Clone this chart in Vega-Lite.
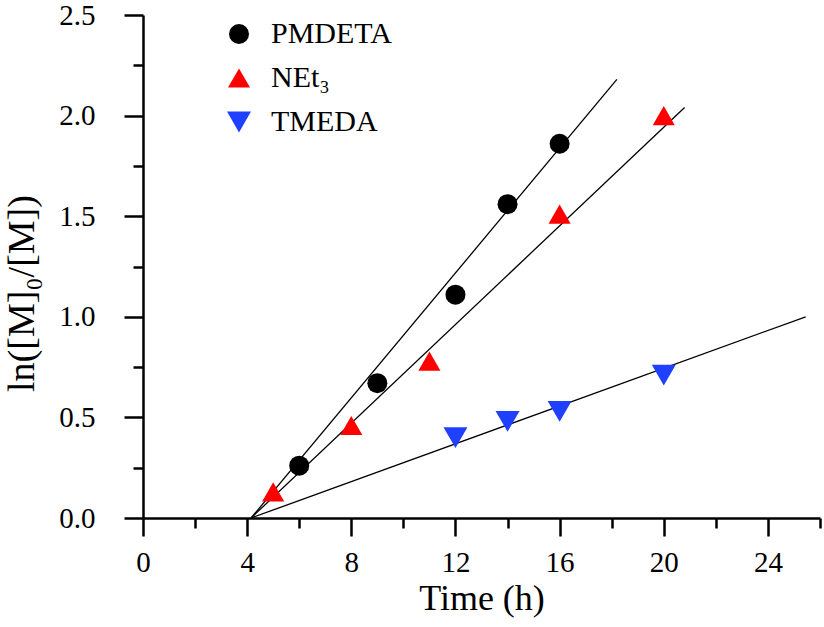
{
  "$schema": "https://vega.github.io/schema/vega-lite/v6.json",
  "width": 677,
  "height": 503,
  "autosize": "none",
  "padding": {"left": 143, "top": 15, "right": 4, "bottom": 109},
  "background": "white",
  "config": {"view": {"stroke": null}, "font": "Liberation Serif", "axis": {"labelFont": "Liberation Serif", "titleFont": "Liberation Serif"}},
  "datasets": {
    "points": [
      {"series": "PMDETA", "time": 6, "value": 0.26},
      {"series": "PMDETA", "time": 9, "value": 0.67},
      {"series": "PMDETA", "time": 12, "value": 1.11},
      {"series": "PMDETA", "time": 14, "value": 1.56},
      {"series": "PMDETA", "time": 16, "value": 1.86},
      {"series": "NEt₃", "time": 5, "value": 0.13},
      {"series": "NEt₃", "time": 8, "value": 0.46},
      {"series": "NEt₃", "time": 11, "value": 0.78},
      {"series": "NEt₃", "time": 16, "value": 1.51},
      {"series": "NEt₃", "time": 20, "value": 2.0},
      {"series": "TMEDA", "time": 12, "value": 0.4},
      {"series": "TMEDA", "time": 14, "value": 0.48},
      {"series": "TMEDA", "time": 16, "value": 0.53},
      {"series": "TMEDA", "time": 20, "value": 0.71}
    ],
    "fits": [
      {"series": "PMDETA", "time": 4.15, "value": 0},
      {"series": "PMDETA", "time": 18.2, "value": 2.18},
      {"series": "NEt₃", "time": 4.15, "value": 0},
      {"series": "NEt₃", "time": 20.8, "value": 2.04},
      {"series": "TMEDA", "time": 4.15, "value": 0},
      {"series": "TMEDA", "time": 25.45, "value": 1.0}
    ]
  },
  "layer": [
    {
      "data": {"name": "fits"},
      "mark": {"type": "line", "color": "black", "strokeWidth": 1.3},
      "encoding": {
        "x": {
          "field": "time", "type": "quantitative",
          "scale": {"domain": [0, 26], "nice": false, "zero": false},
          "axis": {
            "values": [0, 2, 4, 6, 8, 10, 12, 14, 16, 18, 20, 22, 24, 26],
            "labelExpr": "datum.value % 4 === 0 ? datum.label : ''",
            "format": "d",
            "tickSize": {"condition": {"test": "datum.value % 4 === 0", "value": 18}, "value": 10},
            "tickWidth": 2.5, "tickColor": "black",
            "domainWidth": 2.5, "domainColor": "black",
            "labelFont": "Liberation Serif",
            "labelFontSize": 29, "labelColor": "black", "labelPadding": 12,
            "labelOverlap": false, "labelFlush": false,
            "title": "Time (h)", "titleFont": "Liberation Serif", "titleFontSize": 36, "titleFontWeight": "normal",
            "titleColor": "black", "titlePadding": 4, "grid": false
          }
        },
        "y": {
          "field": "value", "type": "quantitative",
          "scale": {"domain": [0, 2.5], "nice": false, "zero": false},
          "axis": {
            "values": [0, 0.25, 0.5, 0.75, 1, 1.25, 1.5, 1.75, 2, 2.25, 2.5],
            "labelExpr": "round(datum.value * 4) % 2 === 0 ? datum.label : ''",
            "format": ".1f",
            "tickSize": {"condition": {"test": "round(datum.value * 4) % 2 === 0", "value": 19}, "value": 10},
            "tickWidth": 2.5, "tickColor": "black",
            "domainWidth": 2.5, "domainColor": "black",
            "labelFont": "Liberation Serif",
            "labelFontSize": 29, "labelColor": "black", "labelPadding": 29,
            "labelOverlap": false, "labelFlush": false,
            "title": "ln([M]₀/[M])", "titleFont": "Liberation Serif", "titleFontSize": 38, "titleFontWeight": "normal",
            "titleColor": "black", "titleX": -102, "titleY": 278, "grid": false
          }
        },
        "detail": {"field": "series"}
      }
    },
    {
      "data": {"name": "points"},
      "mark": {"type": "point", "filled": true, "opacity": 1, "strokeWidth": 0},
      "encoding": {
        "x": {"field": "time", "type": "quantitative"},
        "y": {"field": "value", "type": "quantitative"},
        "color": {
          "field": "series", "type": "nominal",
          "scale": {"domain": ["PMDETA", "NEt₃", "TMEDA"], "range": ["#000000", "#FF0000", "#2040FF"]},
          "legend": {
            "orient": "none", "legendX": 81, "legendY": 4, "title": null,
            "labelFontSize": 30, "labelFont": "Liberation Serif", "labelColor": "black",
            "rowPadding": 14, "labelOffset": 17, "padding": 0, "symbolSize": 480
          }
        },
        "shape": {
          "field": "series", "type": "nominal",
          "scale": {"domain": ["PMDETA", "NEt₃", "TMEDA"], "range": ["circle", "triangle-up", "triangle-down"]}
        },
        "size": {
          "field": "series", "type": "ordinal",
          "scale": {"domain": ["PMDETA", "NEt₃", "TMEDA"], "range": [400, 576, 576]}
        }
      }
    }
  ]
}
